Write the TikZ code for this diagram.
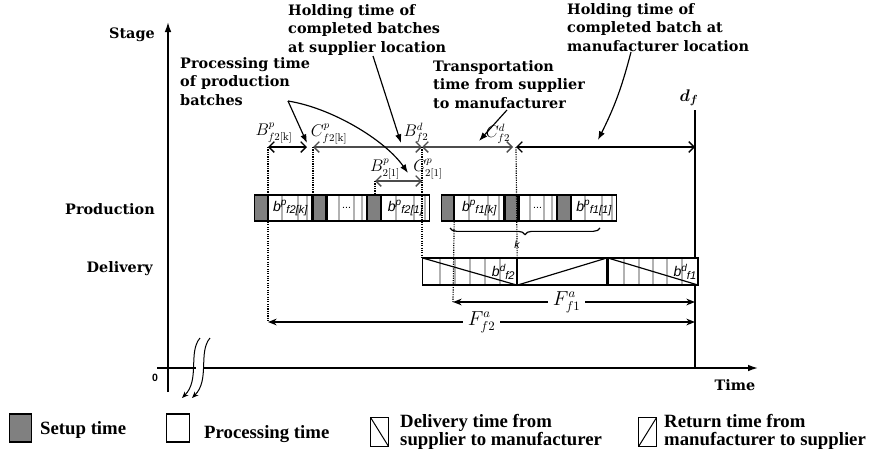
\documentclass[tikz,border=0pt]{standalone}
\usepackage{fontspec}
\usepackage{amsmath,bm}
\newfontfamily\notefont{DejaVu Serif}
\newfontfamily\legfont{Liberation Serif}
\newfontfamily\boxfont{Liberation Sans}
\usetikzlibrary{arrows.meta,calc,decorations.pathreplacing}

% gray stripes inside a block (fractions of its width)
\newcommand\stripeset[1]{%
  \foreach \s in {#1}{%
    \draw[black!30, line width=0.6mm]
      ($(path picture bounding box.north west)!\s!(path picture bounding box.north east)$) --
      ($(path picture bounding box.south west)!\s!(path picture bounding box.south east)$);}}
% batch label: b, superscript, subscript side by side
\newcommand\batchlbl[2]{b\raisebox{0.8ex}{\fontsize{8.5}{8.5}\selectfont #1}\raisebox{-0.3ex}{\fontsize{9.5}{9.5}\selectfont #2}}

\begin{document}
\begin{tikzpicture}[x=0.3mm, y=-0.3mm,
  %--- text styles ---
  note/.style={font=\notefont\bfseries\fontsize{12.3}{16}\selectfont, align=left, inner sep=0pt, anchor=north west},
  stagelbl/.style={font=\notefont\bfseries\fontsize{12.3}{15}\selectfont, inner sep=0pt, anchor=east},
  mlbl/.style={font=\fontsize{13.5}{14}\selectfont, inner sep=0pt},
  flbl/.style={font=\fontsize{16}{16}\selectfont, fill=white, inner sep=4pt},
  leg/.style={font=\legfont\bfseries\fontsize{16}{15}\selectfont, align=left, inner sep=0pt, anchor=west},
  %--- block styles ---
  blk/.style={draw, line width=0.35mm, inner sep=0pt, anchor=west, font=\boxfont\itshape\fontsize{12}{12}\selectfont},
  setupbk/.style={blk, fill=black!50, minimum width=3.9mm, minimum height=7.8mm},
  procbk/.style={blk, fill=white, minimum height=7.8mm, path picture={\stripeset{0.3,0.68,0.9}}},
  dlvbk/.style={blk, fill=white, minimum height=8.1mm, align=right,
    path picture={\stripeset{0.18,0.34,0.5,0.66,0.82}
      \draw[line width=0.35mm] (path picture bounding box.north west) -- (path picture bounding box.south east);}},
  retbk/.style={blk, fill=white, minimum height=8.1mm,
    path picture={\draw[line width=0.35mm] (path picture bounding box.south west) -- (path picture bounding box.north east);}},
  legdlv/.style={blk, minimum width=5.4mm, minimum height=8.7mm,
    path picture={\draw[line width=0.3mm] (path picture bounding box.north west) -- (path picture bounding box.south east);}},
  legret/.style={blk, minimum width=5.4mm, minimum height=8.7mm,
    path picture={\draw[line width=0.3mm] (path picture bounding box.south west) -- (path picture bounding box.north east);}},
  %--- lines and arrows ---
  axis/.style={line width=0.45mm},
  brk/.style={line width=0.3mm, -{Stealth[length=2mm,width=1.6mm]}},
  tl/.style={line width=0.4mm, {Straight Barb[length=1.6mm,width=3.2mm]}-{Straight Barb[length=1.6mm,width=3.2mm]}},
  dot/.style={line width=0.35mm, densely dotted},
  farr/.style={line width=0.35mm, {Stealth[length=2.6mm,width=2mm]}-{Stealth[length=2.6mm,width=2mm]}},
  callout/.style={line width=0.35mm, -{Latex[length=2.6mm,width=1.9mm]}}
]
\useasboundingbox (0,0) rectangle (871,457);

%% ── AXES ─────────────────────────────────────────────────────────────
\coordinate (org) at (168,368);
\draw[axis, -{Latex[length=3mm,width=2mm]}] (168,392) -- (168,22);
\draw[axis] (157,368) -- (196,368);
\draw[axis, -{Latex[length=3mm,width=2mm]}] (204,368) -- (758,368);
\draw[brk] (200,338) .. controls (188,352) and (200,380) .. (182,398);
\draw[brk] (210,338) .. controls (198,352) and (210,380) .. (192,398);

\node[stagelbl] (stage) at (155,35) {Stage};
\node[stagelbl] (prod) at (155,209) {Production};
\node[stagelbl] (deliv) at (153,269) {Delivery};
\node[font=\notefont\bfseries\fontsize{12.3}{15}\selectfont] (time) at (735,385) {Time};
\node[font=\boxfont\bfseries\small] (zero) at (155,378) {0};

%% ── DUE DATE ─────────────────────────────────────────────────────────
\coordinate (dftop) at (695,110);
\draw[axis] (dftop) -- (dftop |- org);
\node[font=\Large] (dflbl) at (689,98) {$\bm{d_f}$};

%% ── PRODUCTION ROW ───────────────────────────────────────────────────
\node[setupbk] (s1) at (254,208) {};
\node[procbk, minimum width=12.9mm] (p1) at (s1.east) {\batchlbl{p}{f2[k]}};
\node[setupbk] (s2) at (p1.east) {};
\node[procbk, minimum width=11.7mm, font=\boxfont\small] (p2) at (s2.east) {...};
\node[setupbk] (s3) at (p2.east) {};
\node[procbk, minimum width=14.4mm] (p3) at (s3.east) {\batchlbl{p}{f2[1]}};

\node[setupbk, minimum width=3.6mm] (s4) at (441,208) {};
\node[procbk, minimum width=14.7mm] (p4) at (s4.east) {\batchlbl{p}{f1[k]}};
\node[setupbk] (s5) at (p4.east) {};
\node[procbk, minimum width=11.1mm, font=\boxfont\small] (p5) at (s5.east) {...};
\node[setupbk] (s6) at (p5.east) {};
\node[procbk, minimum width=13.5mm] (p6) at (s6.east) {\batchlbl{p}{f1[1]}};

\draw[decorate, decoration={brace, mirror, amplitude=2mm}, line width=0.35mm] (450,228) -- (600,228);
\node[font=\boxfont\itshape\small] (klbl) at (517,245) {k};

%% ── DELIVERY ROW ─────────────────────────────────────────────────────
\node[dlvbk, minimum width=28.2mm, text width=27mm] (d1) at (422,271.5) {\batchlbl{d}{f2}};
\node[retbk, minimum width=26.7mm] (r1) at (d1.east) {};
\node[dlvbk, minimum width=27mm, text width=26mm] (d2) at (r1.east) {\batchlbl{d}{f1}};

%% ── TIME MARKS ───────────────────────────────────────────────────────
\coordinate (a1) at (268,147);
\coordinate (a2) at (307,147);
\coordinate (a3) at (313,147);
\coordinate (a4) at (422,147);
\coordinate (a5) at (513,147);
\coordinate (a6) at (516,147);
\coordinate (c1) at (375,181);
\coordinate (c2) at (422,181);
\coordinate (g1) at (453,302);
\coordinate (g2) at (268,322);

\draw[tl] (a1) -- (a2);
\draw[tl, black!70] (a3) -- (a4);
\draw[tl, black!70] (a4) -- (a5);
\draw[tl] (a6) -- (a6 -| dftop);
\draw[tl, black!70] (c1) -- (c2);

\node[mlbl] (lbpk) at (274,133) {$B^{p}_{f2[\mathrm{k}]}$};
\node[mlbl] (lcpk) at (329,134) {$C^{p}_{f2[\mathrm{k}]}$};
\node[mlbl] (lbd) at (416,133) {$B^{d}_{f2}$};
\node[mlbl] (lcd) at (498,134) {$C^{d}_{f2}$};
\node[mlbl] (lbp1) at (385,169) {$B^{p}_{2[1]}$};
\node[mlbl] (lcp1) at (428,169) {$C^{p}_{2[1]}$};

% dotted guides
\draw[dot] (a1) -- (g2);
\draw[dot] (a3) -- (a3 |- p1.south);
\draw[dot] (c1) -- (c1 |- p3.north);
\draw[dot] (a4) -- (d1.north west);
\draw[dot] (p4.south west) -- (g1);
\draw[dot] (a6) -- (d1.north east);

%% ── FLOW TIMES ───────────────────────────────────────────────────────
\draw[farr] (g1) -- node[flbl, pos=0.47] (ff1) {$F^{a}_{f1}$} (g1 -| dftop);
\draw[farr] (g2) -- node[flbl, pos=0.5] (ff2) {$F^{a}_{f2}$} (g2 -| dftop);

%% ── CALLOUTS ─────────────────────────────────────────────────────────
\node[note] (procnote) at (180,57) {Processing time\\of production\\batches};
\node[note] (holdsup) at (288,4) {Holding time of\\completed batches\\at supplier location};
\node[note] (transp) at (433,60) {Transportation\\time from supplier\\to manufacturer};
\node[note] (holdman) at (567,3) {Holding time of\\completed batch at\\manufacturer location};

\coordinate (procT) at (288,101);
\draw[callout] (procT) -- (307,143);
\draw[callout] (procT) .. controls (332,108) and (385,140) .. (408,173);
\draw[callout] (373,56) -- (401,143);
\draw[callout] (507,110) -- (479,141);
\draw[callout] (631,52) to[bend left=6] (598,140);

%% ── LEGEND ───────────────────────────────────────────────────────────
\node[setupbk, minimum width=6.6mm, minimum height=8.4mm] (legS) at (9,428) {};
\node[leg] (legSt) at (40,430) {Setup time};
\node[blk, fill=white, minimum width=6.9mm, minimum height=8.4mm] (legP) at (166,428) {};
\node[leg] (legPt) at (204,434) {Processing time};
\node[legdlv] (legD) at (370,432) {};
\node[leg] (legDt) at (400,432) {Delivery time from\\supplier to manufacturer};
\node[legret] (legR) at (638,432) {};
\node[leg] (legRt) at (664,432) {Return time from\\manufacturer to supplier};
\end{tikzpicture}
\end{document}
